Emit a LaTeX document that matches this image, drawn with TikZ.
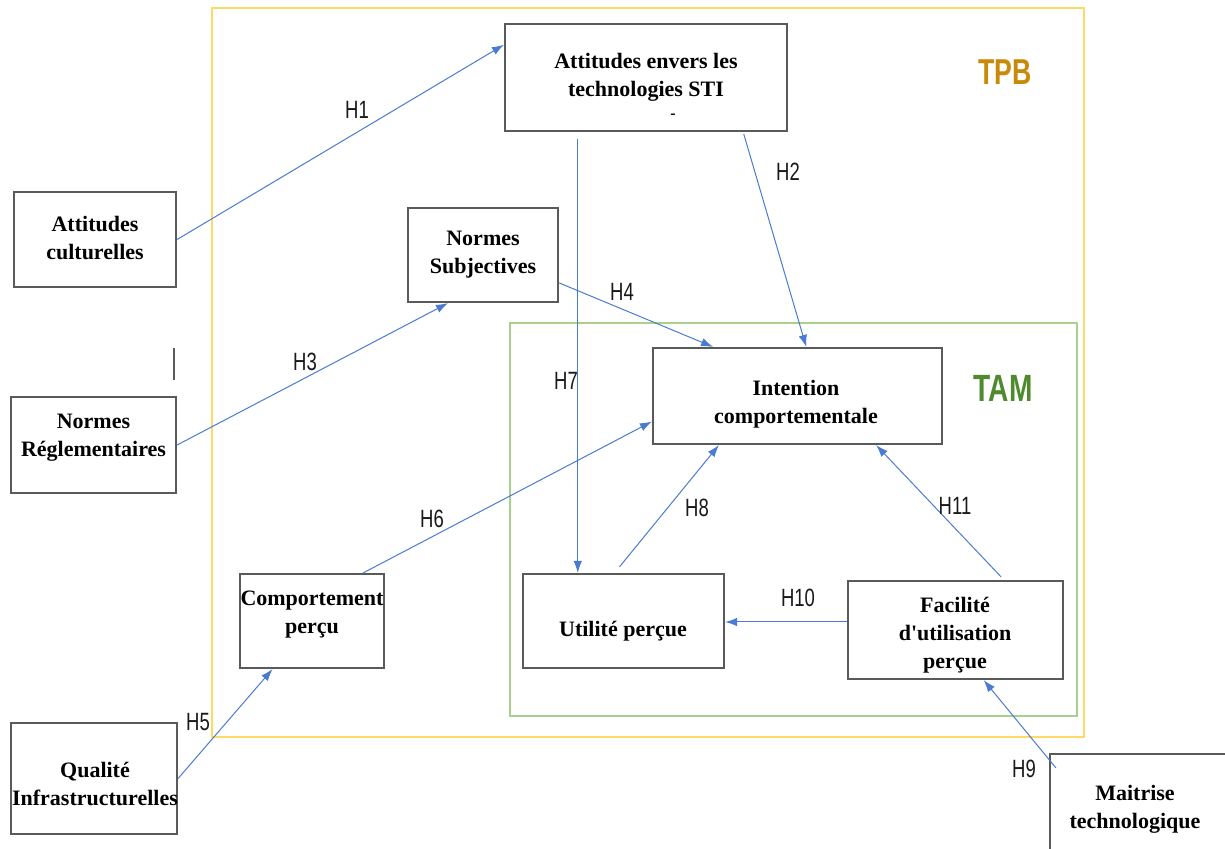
\documentclass[tikz,border=0pt]{standalone}
\usepackage{fontspec}
\setmainfont{Liberation Serif}
\newfontfamily\hlabelfont[FakeStretch=0.74]{Liberation Sans}
\usetikzlibrary{arrows.meta,calc}

\definecolor{boxgray}{HTML}{5A5A5A}
\definecolor{linkblue}{HTML}{4A7BD0}
\definecolor{tpbline}{HTML}{FFD966}
\definecolor{tpbtext}{HTML}{C98A0A}
\definecolor{tamline}{HTML}{A9D18E}
\definecolor{tamtext}{HTML}{4F8B2E}

\tikzset{
  box/.style={draw=boxgray, line width=2.2pt, fill=white, inner sep=0pt},
  boxtext/.style={align=center, inner sep=0pt,
    font=\bfseries\fontsize{22}{28}\selectfont},
  link/.style={draw=linkblue, line width=1pt,
    -{Latex[length=12pt,width=8.5pt]}},
  hlabel/.style={inner sep=0pt, text=black!90,
    font=\hlabelfont\fontsize{25}{25}\selectfont},
  frame/.style={line width=2pt}
}

\begin{document}
\begin{tikzpicture}[x=1pt,y=-1pt]
\useasboundingbox (0,0) rectangle (1225,848);

% model frames
\draw[frame, draw=tpbline] (212,8) rectangle (1084,737);
\draw[frame, draw=tamline] (510,323) rectangle (1077,716);
\node[inner sep=0pt, text=tpbtext,
  font=\hlabelfont\bfseries\fontsize{36}{36}\selectfont] (tpb) at (1005,72) {TPB};
\node[inner sep=0pt, text=tamtext,
  font=\hlabelfont\bfseries\fontsize{38}{38}\selectfont] (tam) at (1003,388) {TAM};

% constructs
\node[box, minimum width=282pt, minimum height=107pt] (A) at (646,77.5) {};
\node[boxtext] (At) at (646,77) {Attitudes envers les\\technologies STI};
\node[inner sep=0pt, font=\bfseries\fontsize{16}{16}\selectfont] (Adash) at (673,116) {-};

\node[box, minimum width=162pt, minimum height=95pt] (B) at (95,239.5) {};
\node[boxtext] (Bt) at (95,238) {Attitudes\\culturelles};

\node[box, minimum width=165pt, minimum height=96pt] (C) at (93.5,445) {};
\node[boxtext] (Ct) at (93.5,438) {Normes\\Réglementaires};
\draw[boxgray, line width=1.5pt] (174,348) -- (174,380);

\node[box, minimum width=150pt, minimum height=94pt] (D) at (483,255) {};
\node[boxtext] (Dt) at (483,255) {Normes\\Subjectives};

\node[box, minimum width=289pt, minimum height=96pt] (E) at (797.5,396) {};
\node[boxtext] (Et) at (796,404) {Intention\\comportementale};

\node[box, minimum width=144pt, minimum height=94pt] (F) at (312,621) {};
\node[boxtext] (Ft) at (312,615) {Comportement\\perçu};

\node[box, minimum width=201pt, minimum height=94pt] (G) at (623.5,621) {};
\node[boxtext] (Gt) at (623,631) {Utilité perçue};

\node[box, minimum width=215pt, minimum height=98pt] (H) at (955.5,630) {};
\node[boxtext] (Ht) at (955,635) {Facilité\\d\textquotesingle utilisation\\perçue};

\node[box, minimum width=166pt, minimum height=111pt] (I) at (94,778.5) {};
\node[boxtext] (It) at (95,784) {Qualité\\Infrastructurelles};

\node[box, minimum width=190pt, minimum height=110pt] (J) at (1145,809) {};
\node[boxtext] (Jt) at (1135,809) {Maitrise\\technologique};

% hypotheses
\draw[link] (B.east) -- ($(A.north west)!0.2!(A.south west)$);
\draw[link] ($(A.south west)!0.844!(A.south east)+(0,2)$) -- ($(E.north west)!0.53!(E.north east)$);
\draw[link] (C.east) -- ($(D.south west)!0.27!(D.south east)$);
\draw[link] ($(D.north east)!0.79!(D.south east)$) -- ($(E.north west)!0.21!(E.north east)$);
\draw[link] (I.east) -- ($(F.south west)!0.23!(F.south east)$);
\draw[link] ($(F.north west)!0.85!(F.north east)$) -- ($(E.north west)!0.76!(E.south west)$);
\coordinate (h7start) at ($(A.south west)!0.26!(A.south east)+(0,7)$);
\draw[link] (h7start) -- (h7start |- G.north);
\draw[link] ($(G.north west)!0.48!(G.north east)+(0,-6)$) -- ($(E.south west)!0.23!(E.south east)$);
\draw[link] ($(J.north west)+(7,15)$) -- ($(H.south west)!0.63!(H.south east)$);
\coordinate (h10start) at ($(H.north west)!0.42!(H.south west)$);
\draw[link] (h10start) -- (G.east |- h10start);
\draw[link] ($(H.north west)!0.71!(H.north east)+(0,-3)$) -- ($(E.south west)!0.77!(E.south east)$);

% hypothesis labels
\node[hlabel] (l1) at (357,110) {H1};
\node[hlabel] (l2) at (788,172) {H2};
\node[hlabel] (l3) at (305,362) {H3};
\node[hlabel] (l4) at (622,292) {H4};
\node[hlabel] (l5) at (198,722) {H5};
\node[hlabel] (l6) at (432,519) {H6};
\node[hlabel] (l7) at (566,381) {H7};
\node[hlabel] (l8) at (697,508) {H8};
\node[hlabel] (l9) at (1024,769) {H9};
\node[hlabel] (l10) at (798,598) {H10};
\node[hlabel] (l11) at (955,506) {H11};
\end{tikzpicture}
\end{document}
